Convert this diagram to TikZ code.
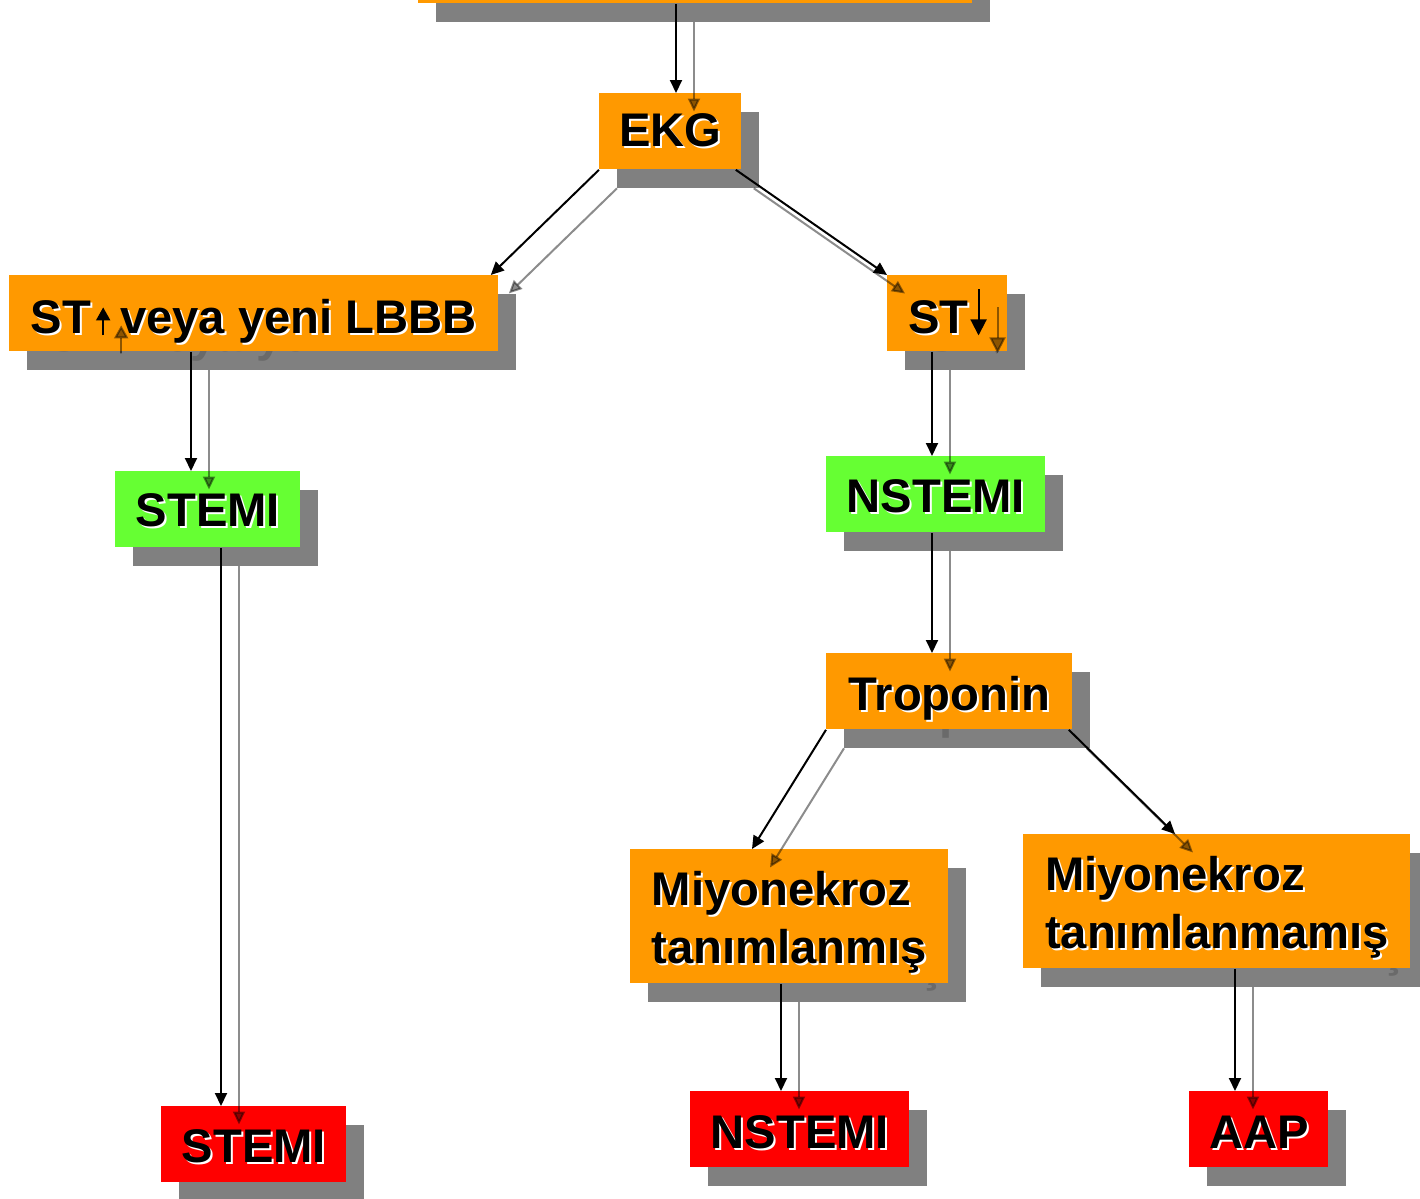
\documentclass[tikz,border=0pt]{standalone}
\usepackage{fontspec}
\setmainfont{Liberation Sans}
\usetikzlibrary{arrows.meta,calc}

\definecolor{boxorange}{HTML}{FF9900}
\definecolor{boxgreen}{HTML}{66FF33}
\definecolor{boxred}{HTML}{FF0000}
\definecolor{shadegray}{HTML}{808080}
\definecolor{shadetext}{HTML}{6A6A6A}

% true while the grey drop-shadow copy of a box is being typeset
\newif\ifshadecopy

% bold label with a thin white offset halo
\newcommand\glow[1]{\ifshadecopy#1\else\leavevmode\rlap{\kern1pt\raisebox{-1pt}{\textcolor{white}{#1}}}#1\fi}
% two left-aligned lines, baseline on the last one
\newcommand\twolines[2]{\vbox{\hbox{\glow{#1}}\hbox{\glow{#2}}}}

% inline arrows used in the ST labels
\newcommand\uparr{\tikz[baseline=0pt,x=1pt,y=1pt]{%
  \ifshadecopy
    \draw[shadetext,line width=1pt,-{Triangle[length=6.5pt,width=7pt]}] (0,-1)--(0,13);
  \else
    \draw[overlay,black,opacity=0.45,line width=1pt,-{Triangle[length=6.5pt,width=7pt]}] (9,-10)--(9,4);
    \draw[black,line width=1pt,-{Triangle[length=6.5pt,width=7pt]}] (0,-1)--(0,13);
  \fi}}
\newcommand\downarr{\tikz[baseline=0pt,x=1pt,y=1pt]{%
  \ifshadecopy
    \draw[shadetext,line width=1pt,-{Triangle[length=8pt,width=8pt]}] (0,22)--(0,-1);
  \else
    \draw[overlay,black,opacity=0.45,line width=1pt,-{Triangle[length=8pt,width=8pt]}] (9.5,13)--(9.5,-10);
    \draw[black,line width=1pt,-{Triangle[length=8pt,width=8pt]}] (0,22)--(0,-1);
  \fi}}

% box with grey drop shadow: name, left, top, width, height, fill, baseline offset, text
\newcommand\flow[8]{%
  \shadecopytrue
  \node[boxshade,minimum width=#4*0.5pt,minimum height=#5*0.5pt,text height=#7pt,text depth=0pt] at (#2+18,#3+18.5) {#8};
  \shadecopyfalse
  \node[flowbox,fill=#6,minimum width=#4*0.5pt,minimum height=#5*0.5pt,text height=#7pt,text depth=0pt] (#1) at (#2,#3) {#8};}

% connector with its translucent shadow copy
\newcommand\link[2]{%
  \draw[shadelink] ($#1+(18,18.5)$) -- ($#2+(18,18.5)$);
  \draw[link] ($#1$) -- ($#2$);}

\begin{document}
\begin{tikzpicture}[x=0.5pt,y=-0.5pt,
  font=\fontsize{23.6}{29}\selectfont\bfseries,
  flowbox/.style={inner sep=0pt,anchor=north west,text=black},
  boxshade/.style={fill=shadegray,text=shadetext,inner sep=0pt,anchor=north west},
  link/.style={line width=1pt,black,-{Triangle[length=6.5pt,width=6pt]}},
  shadelink/.style={line width=1pt,black,opacity=0.45,-{Triangle[length=6.5pt,width=6pt]}}]

\useasboundingbox (0,0) rectangle (1420,1199);

\flow{top}{418}{-73}{554}{76}{boxorange}{19}{\glow{Akut koroner sendrom}}
\flow{ekg}{599}{93}{142}{76}{boxorange}{15}{\glow{EKG}}
\flow{stu}{9}{275}{489}{76}{boxorange}{20}{\glow{ST}\hspace{2.5pt}\uparr\hspace{5pt}\glow{veya yeni LBBB}}
\flow{std}{887}{275}{120}{76}{boxorange}{20}{\glow{ST}\hspace{1pt}\downarr}
\flow{stemiG}{115}{471}{185}{76}{boxgreen}{17}{\glow{STEMI}}
\flow{nstemiG}{826}{456}{219}{76}{boxgreen}{18}{\glow{NSTEMI}}
\flow{trop}{826}{653}{246}{76}{boxorange}{19}{\glow{Troponin}}
\flow{mt}{630}{849}{318}{134}{boxorange}{47}{\twolines{Miyonekroz}{tanımlanmış}}
\flow{mn}{1023}{834}{387}{134}{boxorange}{47}{\twolines{Miyonekroz}{tanımlanmamış}}
\flow{stemiR}{161}{1106}{185}{76}{boxred}{18}{\glow{STEMI}}
\flow{nstemiR}{690}{1091}{219}{76}{boxred}{19}{\glow{NSTEMI}}
\flow{aap}{1189}{1091}{139}{76}{boxred}{19}{\glow{AAP}}

\link{(top.south west)+(258,0)}{(ekg.north west)+(77,0)}
\link{(ekg.south west)}{(stu.north east)+(-8,0)}
\link{(ekg.south east)+(-6,0)}{(std.north west)}
\link{(stu.south west)+(182,0)}{(stemiG.north west)+(76,0)}
\link{(std.south west)+(45,0)}{(nstemiG.north west)+(106,0)}
\link{(stemiG.south west)+(106,0)}{(stemiR.north west)+(60,0)}
\link{(nstemiG.south west)+(106,0)}{(trop.north west)+(106,0)}
\link{(trop.south west)}{(mt.north west)+(122,0)}
\link{(trop.south east)+(-4,0)}{(mn.north west)+(152,0)}
\link{(mt.south west)+(151,0)}{(nstemiR.north west)+(91,0)}
\link{(mn.south west)+(212,0)}{(aap.north west)+(46,0)}
\end{tikzpicture}
\end{document}
